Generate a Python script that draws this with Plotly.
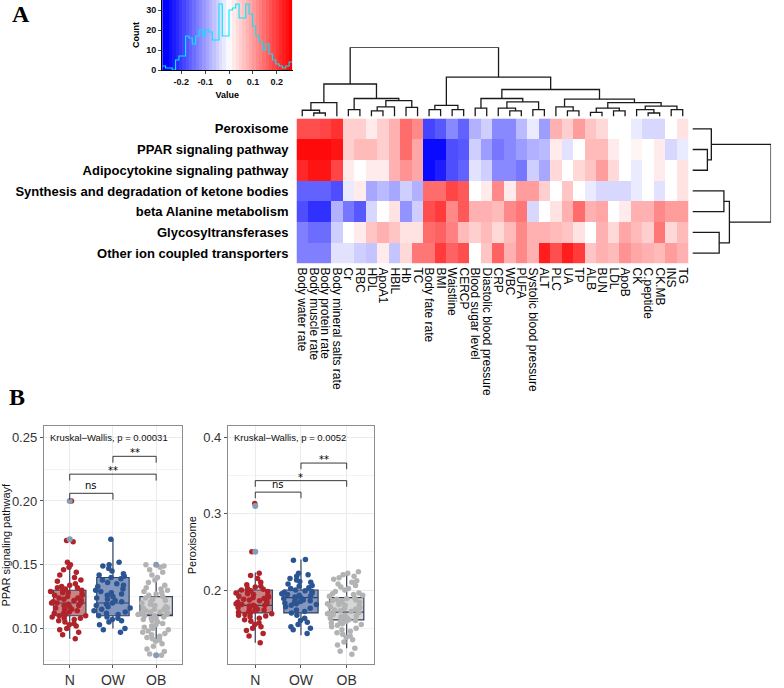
import plotly.graph_objects as go

W, H = 784, 688

# ---------------- Panel A data ----------------
row_labels = ["Peroxisome", "PPAR signaling pathway", "Adipocytokine signaling pathway",
              "Synthesis and degradation of ketone bodies", "beta Alanine metabolism",
              "Glycosyltransferases", "Other ion coupled transporters"]
col_labels = ["Body water rate", "Body muscle rate", "Body protein rate", "Body mineral salts rate",
              "Cr", "RBC", "HDL", "ApoA1", "HBIL", "Hb", "TC", "Body fate rate", "BMI", "Waistline",
              "CERCP", "Blood sugar level", "Diastolic blood pressure", "CRP", "WBC", "PUFA",
              "Systolic blood pressure", "ALT", "PLC", "UA", "TP", "ALB", "BUN", "LDL", "ApoB", "CK",
              "C.peptide", "CK.MB", "INS", "TG"]

r_peroxisome = [0.18, 0.18, 0.19, 0.21, 0.05, 0.05, 0.02, 0.05, 0.08, 0.15, 0.12, -0.19, -0.17, -0.12,
                -0.16, -0.08, -0.05, -0.12, -0.12, -0.07, -0.02, -0.10, 0.08, 0.05, 0.10, 0.06, 0.04,
                0.0, 0.0, -0.02, -0.04, -0.04, 0.0, 0.03]
r_ppar = [0.25, 0.25, 0.25, 0.24, 0.05, 0.07, 0.07, 0.05, 0.08, 0.15, 0.09, -0.25, -0.25, -0.18,
          -0.17, -0.05, -0.10, -0.14, -0.12, -0.10, -0.08, -0.07, 0.02, -0.03, 0.0, 0.07, 0.07,
          0.02, 0.0, 0.01, 0.0, 0.02, -0.04, -0.02]
r_adipo = [0.22, 0.24, 0.24, 0.19, 0.02, 0.0, 0.02, 0.02, 0.08, 0.11, 0.09, -0.25, -0.23, -0.18,
           -0.16, -0.03, -0.05, -0.12, -0.12, -0.14, -0.05, -0.09, 0.04, 0.0, 0.04, 0.06, 0.10,
           0.04, 0.0, -0.02, 0.0, 0.02, 0.0, 0.03]
r_ketone = [-0.16, -0.16, -0.16, -0.18, -0.02, 0.02, -0.09, -0.07, -0.09, -0.05, -0.08, 0.15, 0.15,
            0.19, 0.17, 0.0, 0.02, 0.12, 0.02, 0.10, 0.10, 0.05, 0.0, 0.06, 0.0, -0.02, -0.04,
            -0.04, -0.04, -0.02, 0.0, -0.03, 0.0, 0.03]
r_balanine = [-0.18, -0.21, -0.21, -0.08, -0.14, -0.17, -0.04, 0.0, 0.03, -0.11, -0.05, 0.18, 0.20,
              0.12, 0.17, 0.08, 0.08, 0.07, 0.12, 0.14, -0.04, 0.0, 0.03, 0.08, 0.15, 0.08, 0.09,
              0.0, 0.02, 0.08, 0.08, 0.12, 0.10, 0.10]
r_glyco = [-0.13, -0.15, -0.15, -0.05, 0.0, 0.02, 0.06, 0.08, 0.06, 0.03, 0.03, 0.15, 0.16, 0.13,
           0.07, 0.05, 0.07, 0.04, 0.07, 0.12, 0.08, 0.08, 0.07, 0.06, 0.03, 0.0, 0.08, 0.04, 0.09,
           0.07, 0.05, 0.14, 0.04, 0.07]
r_ion = [-0.13, -0.13, -0.13, -0.03, -0.03, -0.05, -0.06, 0.02, -0.06, 0.04, 0.14, 0.14, 0.20,
         0.16, 0.18, 0.0, 0.06, 0.16, 0.08, 0.12, 0.08, 0.23, 0.18, 0.23, 0.20, 0.06, 0.08, 0.07,
         0.11, 0.09, 0.08, 0.07, 0.10, 0.08]

# hierarchical clustering trees: [height, left, right], leaves are column / row indices
col_tree = [1.0,
            [0.47,
             [0.20, [0.09, 0, [0.05, 1, 2]], 3],
             [0.26, [0.10, 4, 5], [0.23, [0.14, [0.08, 6, 7], 8], [0.13, 9, 10]]]],
            [0.57,
             [0.16, [0.10, 11, 12], [0.10, 13, 14]],
             [0.39,
              [0.26, [0.12, 15, 16], [0.21, [0.12, 17, [0.08, 18, 19]], [0.10, 20, 21]]],
              [0.25, [0.14, 22, [0.08, 23, 24]],
               [0.20, [0.12, [0.06, 25, 26], [0.08, 27, 28]],
                [0.15, [0.10, 29, [0.05, 30, 31]], [0.10, 32, 33]]]]]]]
row_tree = [1.0, [0.24, 0, [0.19, 1, 2]], [0.47, [0.40, 3, 4], [0.34, 5, 6]]]

# colour-key histogram
hist_start = -0.28
hist_bin = 0.014
hist_counts = [2, 1, 1, 0, 5, 7, 7, 17, 16, 13, 17, 20, 17, 20, 19, 15, 15, 33, 17, 17, 30, 31,
               33, 26, 26, 33, 28, 22, 17, 14, 10, 13, 8, 5, 3, 2, 1, 2, 4]

# ---------------- Panel B data ----------------
groups = ["N", "OW", "OB"]

ppar_N = [0.200, 0.169, 0.168, 0.152, 0.150, 0.148, 0.146, 0.144, 0.142, 0.140, 0.138, 0.137,
          0.135, 0.134, 0.133, 0.132, 0.132, 0.131, 0.130, 0.130, 0.129, 0.128, 0.128, 0.127,
          0.126, 0.126, 0.125, 0.124, 0.124, 0.123, 0.122, 0.122, 0.121, 0.120, 0.120, 0.120,
          0.119, 0.118, 0.118, 0.117, 0.116, 0.115, 0.115, 0.114, 0.113, 0.112, 0.112, 0.111,
          0.110, 0.110, 0.109, 0.108, 0.108, 0.107, 0.106, 0.105, 0.104, 0.103, 0.102, 0.100,
          0.099, 0.097, 0.095, 0.092]
ppar_OW = [0.170, 0.152, 0.150, 0.149, 0.147, 0.145, 0.143, 0.142, 0.141, 0.140, 0.139, 0.138,
           0.136, 0.135, 0.134, 0.133, 0.131, 0.130, 0.129, 0.128, 0.127, 0.126, 0.125, 0.124,
           0.123, 0.122, 0.121, 0.120, 0.119, 0.118, 0.117, 0.116, 0.115, 0.114, 0.113, 0.112,
           0.111, 0.110, 0.109, 0.108, 0.107, 0.106, 0.105, 0.103, 0.100, 0.099, 0.097]
ppar_OB = [0.150, 0.149, 0.148, 0.146, 0.144, 0.142, 0.140, 0.138, 0.136, 0.134, 0.132, 0.131,
           0.130, 0.129, 0.128, 0.127, 0.126, 0.125, 0.124, 0.123, 0.122, 0.121, 0.120, 0.119,
           0.118, 0.117, 0.116, 0.116, 0.115, 0.115, 0.114, 0.113, 0.113, 0.112, 0.112, 0.111,
           0.111, 0.110, 0.110, 0.109, 0.108, 0.108, 0.107, 0.106, 0.105, 0.104, 0.103, 0.102,
           0.101, 0.100, 0.099, 0.098, 0.097, 0.096, 0.095, 0.094, 0.093, 0.092, 0.091, 0.090,
           0.088, 0.086, 0.084, 0.082, 0.080, 0.079]
ppar_box = {"q1": [0.110, 0.110, 0.110], "median": [0.120, 0.120, 0.110],
            "q3": [0.130, 0.140, 0.125], "low": [0.092, 0.100, 0.090], "high": [0.150, 0.170, 0.140]}
ppar_outliers = {"N": [0.170, 0.200], "OW": [], "OB": [0.150, 0.079]}
ppar_tests = [("N", "OW", 0.206, "ns"), ("N", "OB", 0.221, "**"), ("OW", "OB", 0.235, "**")]

perox_N = [0.313, 0.250, 0.222, 0.219, 0.215, 0.210, 0.207, 0.205, 0.204, 0.202, 0.201, 0.200,
           0.199, 0.198, 0.197, 0.196, 0.195, 0.194, 0.193, 0.192, 0.191, 0.190, 0.189, 0.188,
           0.187, 0.186, 0.185, 0.184, 0.183, 0.182, 0.181, 0.180, 0.180, 0.179, 0.178, 0.177,
           0.176, 0.175, 0.174, 0.173, 0.172, 0.171, 0.170, 0.169, 0.168, 0.167, 0.166, 0.165,
           0.163, 0.161, 0.159, 0.157, 0.155, 0.152, 0.150, 0.147, 0.143, 0.140, 0.131]
perox_OW = [0.240, 0.239, 0.222, 0.220, 0.218, 0.215, 0.213, 0.211, 0.210, 0.208, 0.206, 0.205,
            0.203, 0.202, 0.200, 0.199, 0.198, 0.197, 0.196, 0.195, 0.194, 0.193, 0.192, 0.191,
            0.190, 0.189, 0.188, 0.187, 0.186, 0.185, 0.184, 0.183, 0.182, 0.181, 0.180, 0.178,
            0.176, 0.174, 0.172, 0.170, 0.167, 0.163, 0.160, 0.158, 0.155, 0.152, 0.150, 0.148,
            0.143]
perox_OB = [0.224, 0.222, 0.220, 0.218, 0.216, 0.214, 0.212, 0.210, 0.208, 0.206, 0.204, 0.202,
            0.200, 0.198, 0.196, 0.195, 0.194, 0.193, 0.192, 0.190, 0.189, 0.188, 0.187, 0.186,
            0.185, 0.184, 0.183, 0.182, 0.181, 0.180, 0.179, 0.178, 0.177, 0.176, 0.175, 0.174,
            0.173, 0.172, 0.171, 0.170, 0.170, 0.169, 0.168, 0.167, 0.166, 0.165, 0.164, 0.163,
            0.162, 0.161, 0.160, 0.159, 0.158, 0.157, 0.156, 0.155, 0.154, 0.152, 0.150, 0.148,
            0.146, 0.144, 0.142, 0.140, 0.138, 0.135, 0.132, 0.128, 0.124, 0.120, 0.116]
perox_box = {"q1": [0.170, 0.170, 0.161], "median": [0.180, 0.190, 0.171],
             "q3": [0.200, 0.200, 0.190], "low": [0.131, 0.141, 0.124], "high": [0.223, 0.240, 0.220]}
perox_outliers = {"N": [0.310, 0.250], "OW": [], "OB": []}
perox_tests = [("N", "OW", 0.328, "ns"), ("N", "OB", 0.343, "*"), ("OW", "OB", 0.366, "**")]

# ---------------- helpers ----------------
def dom_x(p0, p1):
    return [p0 / W, p1 / W]

def dom_y(top, bot):
    return [1 - bot / H, 1 - top / H]

def dendro_lines(tree):
    pos, hts = [], []
    def rec(node):
        if isinstance(node, int):
            return float(node), 0.0
        h, a, b = node
        ca, ha = rec(a)
        cb, hb = rec(b)
        pos.extend([ca, ca, cb, cb, None])
        hts.extend([ha, h, h, hb, None])
        return (ca + cb) / 2, h
    rec(tree)
    return pos, hts

fig = go.Figure()

# ---------------- heatmap ----------------
heat_z = [r_peroxisome, r_ppar, r_adipo, r_ketone, r_balanine, r_glyco, r_ion]
bwr = [[0, "#0000ff"], [0.5, "#ffffff"], [1, "#ff0000"]]
fig.add_trace(go.Heatmap(z=heat_z, x=list(range(len(col_labels))), y=list(range(len(row_labels))),
                         colorscale=bwr, zmin=-0.26, zmax=0.26, showscale=False,
                         xaxis="x", yaxis="y"))

cx, cy = dendro_lines(col_tree)
fig.add_trace(go.Scatter(x=cx, y=cy, mode="lines", line=dict(color="#1a1a1a", width=1.3),
                         xaxis="x2", yaxis="y2", hoverinfo="skip", showlegend=False))
ry, rx = dendro_lines(row_tree)
fig.add_trace(go.Scatter(x=rx, y=ry, mode="lines", line=dict(color="#1a1a1a", width=1.3),
                         xaxis="x3", yaxis="y3", hoverinfo="skip", showlegend=False))

# ---------------- colour key ----------------
edges = [hist_start + i * hist_bin for i in range(len(hist_counts) + 1)]
centers = [(edges[i] + edges[i + 1]) / 2 for i in range(len(hist_counts))]
fig.add_trace(go.Heatmap(z=[centers], x=edges, y=[0, 35], colorscale=bwr, zmin=-0.26, zmax=0.26,
                         showscale=False, xaxis="x4", yaxis="y4", hoverinfo="skip"))
fig.add_trace(go.Scatter(x=edges, y=hist_counts + [hist_counts[-1]], mode="lines",
                         line=dict(color="#00e8ff", width=1.1, shape="hv"),
                         xaxis="x4", yaxis="y4", hoverinfo="skip", showlegend=False))

# ---------------- box plots ----------------
pt_colors = {"N": "#b0232a", "OW": "#2b5592", "OB": "#b3b3b3"}
box_fill = {"N": "#c98486", "OW": "#8497c0", "OB": "#d6d6d6"}
line_col = "#33425e"
box_w = 0.75

def add_panel(xa, ya, pts, stats, outl):
    for i, g in enumerate(groups):
        fig.add_trace(go.Box(x=[g], q1=[stats["q1"][i]], median=[stats["median"][i]],
                             q3=[stats["q3"][i]], lowerfence=[stats["low"][i]],
                             upperfence=[stats["high"][i]], boxpoints=False, width=box_w,
                             whiskerwidth=0, fillcolor=box_fill[g],
                             line=dict(color=line_col, width=1.2),
                             xaxis=xa, yaxis=ya, showlegend=False, hoverinfo="skip"))
    for g in groups:
        if outl[g]:
            fig.add_trace(go.Scatter(x=[g] * len(outl[g]), y=outl[g], mode="markers",
                                     marker=dict(color="#8a9bb5", size=6),
                                     xaxis=xa, yaxis=ya, showlegend=False, hoverinfo="skip"))
    for g in groups:
        fig.add_trace(go.Box(x=[g] * len(pts[g]), y=pts[g], boxpoints="all", jitter=1, pointpos=0,
                             width=0.9, fillcolor="rgba(0,0,0,0)",
                             line=dict(color="rgba(0,0,0,0)", width=0),
                             marker=dict(color=pt_colors[g], size=5.5),
                             xaxis=xa, yaxis=ya, showlegend=False, hoverinfo="skip"))
    # thicker median bar (ggplot style)
    for i, g in enumerate(groups):
        fig.add_trace(go.Scatter(x=[i - box_w / 2, i + box_w / 2],
                                 y=[stats["median"][i], stats["median"][i]], mode="lines",
                                 line=dict(color=line_col, width=2.2),
                                 xaxis=xa, yaxis=ya, showlegend=False, hoverinfo="skip"))

add_panel("x5", "y5", {"N": ppar_N, "OW": ppar_OW, "OB": ppar_OB}, ppar_box, ppar_outliers)
add_panel("x6", "y6", {"N": perox_N, "OW": perox_OW, "OB": perox_OB}, perox_box, perox_outliers)

shapes, annots = [], []
def add_tests(xr, yr, tests, tip):
    for g1, g2, yv, lab in tests:
        i1, i2 = groups.index(g1), groups.index(g2)
        for seg in [(i1, yv - tip, i1, yv), (i1, yv, i2, yv), (i2, yv, i2, yv - tip)]:
            shapes.append(dict(type="line", xref=xr, yref=yr, x0=seg[0], y0=seg[1], x1=seg[2],
                               y1=seg[3], line=dict(color="#222222", width=0.9)))
        annots.append(dict(x=(i1 + i2) / 2, y=yv, xref=xr, yref=yr, text=lab, showarrow=False,
                           yanchor="bottom", yshift=(-4 if "*" in lab else 0),
                           font=dict(size=10, color="#000000", family="DejaVu Sans")))

add_tests("x5", "y5", ppar_tests, 0.005)
add_tests("x6", "y6", perox_tests, 0.008)

annots.append(dict(x=0.03, y=0.955, xref="x5 domain", yref="y5 domain",
                   text="Kruskal\u2013Wallis, p = 0.00031", showarrow=False, xanchor="left",
                   yanchor="middle", font=dict(size=9.5, color="#111111", family="Liberation Sans")))
annots.append(dict(x=0.03, y=0.955, xref="x6 domain", yref="y6 domain",
                   text="Kruskal\u2013Wallis, p = 0.0052", showarrow=False, xanchor="left",
                   yanchor="middle", font=dict(size=9.5, color="#111111", family="Liberation Sans")))
annots.append(dict(x=7 / W, y=1 - 14 / H, xref="paper", yref="paper", text="<b>A</b>",
                   showarrow=False, xanchor="left", yanchor="middle",
                   font=dict(size=24, color="#000000", family="Liberation Serif")))
annots.append(dict(x=4 / W, y=1 - 402 / H, xref="paper", yref="paper", text="<b>B</b>",
                   showarrow=False, xanchor="left", yanchor="middle",
                   font=dict(size=24, color="#000000", family="Liberation Serif")))

# ---------------- layout ----------------
hm_x = dom_x(295, 689)
hm_y = dom_y(120, 267)
box_common = dict(showline=True, mirror=True, linecolor="#8c8c8c", linewidth=1,
                  gridcolor="#ebebeb", gridwidth=1, ticks="outside", ticklen=3,
                  tickcolor="#555555", zeroline=False)

fig.update_layout(
    width=W, height=H, margin=dict(l=0, r=0, t=0, b=0),
    paper_bgcolor="white", plot_bgcolor="white", showlegend=False,
    font=dict(family="Liberation Sans", color="#000000"),
    boxmode="overlay",
    xaxis=dict(domain=hm_x, range=[-0.5, len(col_labels) - 0.5], tickmode="array",
               tickvals=list(range(len(col_labels))), ticktext=col_labels, tickangle=90,
               ticks="", ticklabelstandoff=3, showgrid=False, zeroline=False,
               tickfont=dict(size=12, color="#000000"), anchor="y"),
    yaxis=dict(domain=hm_y, range=[len(row_labels) - 0.5, -0.5], tickmode="array",
               tickvals=list(range(len(row_labels))), ticktext=row_labels, ticks="",
               ticklabelstandoff=7, showgrid=False, zeroline=False,
               tickfont=dict(size=13, color="#000000", weight="bold"), anchor="x"),
    xaxis2=dict(domain=hm_x, range=[-0.5, len(col_labels) - 0.5], visible=False, anchor="y2"),
    yaxis2=dict(domain=dom_y(48, 118), range=[0, 1], visible=False, anchor="x2"),
    xaxis3=dict(domain=dom_x(693, 772), range=[0, 1], visible=False, anchor="y3"),
    yaxis3=dict(domain=hm_y, range=[len(row_labels) - 0.5, -0.5], visible=False, anchor="x3"),
    xaxis4=dict(domain=dom_x(160, 291), range=[edges[0], edges[-1]], tickvals=[-0.2, -0.1, 0, 0.1, 0.2],
                ticktext=["-0.2", "-0.1", "0", "0.1", "0.2"], ticks="outside", ticklen=3,
                showline=True, linecolor="#000000", linewidth=1, showgrid=False, zeroline=False,
                tickfont=dict(size=9, weight="bold", color="#111111"),
                title=dict(text="Value", font=dict(size=9, weight="bold"), standoff=5), anchor="y4"),
    yaxis4=dict(domain=dom_y(0, 71), range=[0, 35], tickvals=[0, 10, 20, 30], ticks="outside",
                ticklen=3, showline=True, linecolor="#000000", linewidth=1, showgrid=False,
                zeroline=False, tickfont=dict(size=9, weight="bold", color="#111111"),
                title=dict(text="Count", font=dict(size=9, weight="bold"), standoff=5), anchor="x4"),
    xaxis5=dict(domain=dom_x(41, 180), categoryorder="array", categoryarray=groups,
                range=[-0.6, 2.6], tickfont=dict(size=14, color="#333333"), anchor="y5", **box_common),
    yaxis5=dict(domain=dom_y(432, 673), range=[0.072, 0.2585], tickvals=[0.10, 0.15, 0.20, 0.25],
                ticktext=["0.10", "0.15", "0.20", "0.25"], tickfont=dict(size=13, color="#333333"),
                minor=dict(dtick=0.025, tick0=0.075, showgrid=True, gridcolor="#f3f3f3", gridwidth=0.6),
                title=dict(text="PPAR signaling pathwayf", font=dict(size=11, color="#111111"), standoff=4),
                anchor="x5", **box_common),
    xaxis6=dict(domain=dom_x(226, 373), categoryorder="array", categoryarray=groups,
                range=[-0.6, 2.6], tickfont=dict(size=14, color="#333333"), anchor="y6", **box_common),
    yaxis6=dict(domain=dom_y(432, 673), range=[0.103, 0.414], tickvals=[0.2, 0.3, 0.4],
                ticktext=["0.2", "0.3", "0.4"], tickfont=dict(size=13, color="#333333"),
                minor=dict(dtick=0.05, tick0=0.15, showgrid=True, gridcolor="#f3f3f3", gridwidth=0.6),
                title=dict(text="Peroxisome", font=dict(size=11, color="#111111"), standoff=4),
                anchor="x6", **box_common),
    shapes=shapes, annotations=annots,
)

fig.write_html("out.html", config={"displayModeBar": False},
               post_script="document.body.style.margin='0';")
